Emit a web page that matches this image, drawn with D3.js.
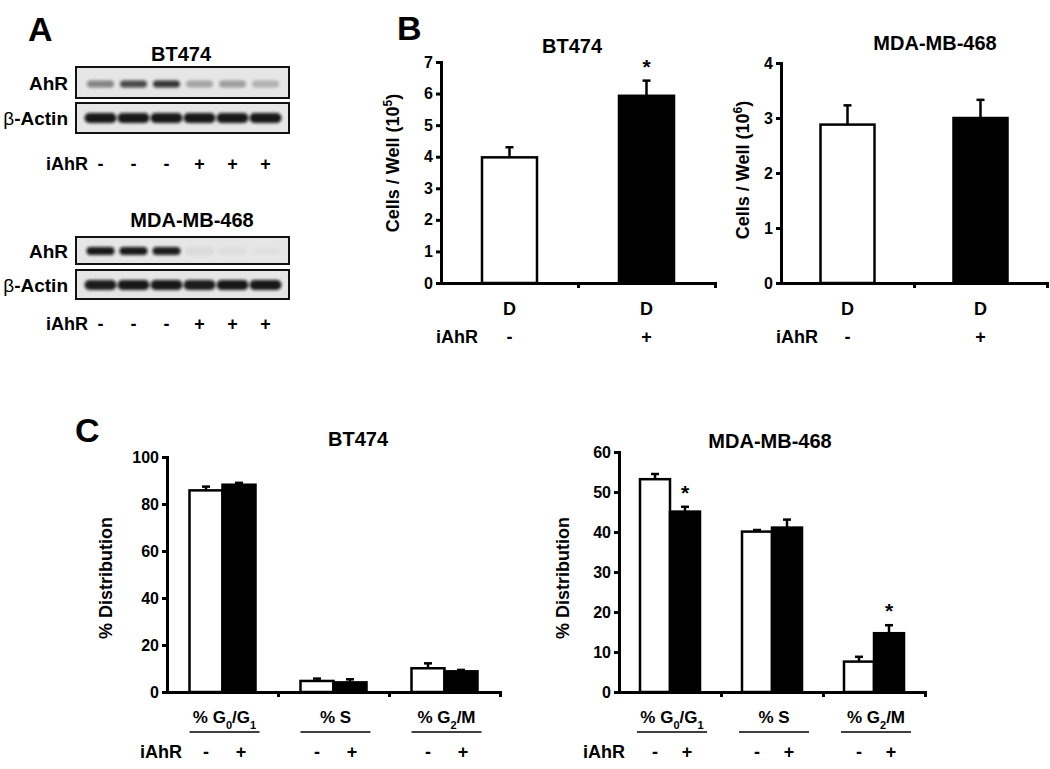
<!DOCTYPE html>
<html>
<head>
<meta charset="utf-8">
<script src="https://cdn.jsdelivr.net/npm/d3@7"></script>
<style>
body{margin:0;background:#fff}
text{font-family:"Liberation Sans",Arial,sans-serif;font-weight:bold;fill:#000}
</style>
</head>
<body>
<svg id="fig" width="1050" height="769"></svg>
<script>
// ---- data ----
// panel A, western blots (band darkness per lane, 0..1)
var lanes=["1","2","3","4","5","6"];
var laneSigns=["-","-","-","+","+","+"];
var bt474AhR=[0.45,0.72,0.82,0.3,0.33,0.24];
var bt474Actin=[0.95,0.95,0.95,0.95,0.95,0.95];
var mdaAhR=[0.95,0.95,0.92,0.05,0.03,0.02];
var mdaActin=[0.92,0.95,0.95,0.93,0.95,0.95];

// panel B, cell counts
var growthGroups=["D","D"];
var growthSigns=["-","+"];
var bt474Cells=[3.98,5.93];
var bt474CellsErr=[0.32,0.48];
var bt474CellsStar=[false,true];
var bt474CellTicks=[0,1,2,3,4,5,6,7];
var mdaCells=[2.88,3.0];
var mdaCellsErr=[0.35,0.33];
var mdaCellsStar=[false,false];
var mdaCellTicks=[0,1,2,3,4];

// panel C, cell cycle distribution
var phases=["% G0/G1","% S","% G2/M"];
var phaseSigns=["-","+"];
var bt474Minus=[85.8,4.7,10.1];
var bt474MinusErr=[1.6,1.0,2.1];
var bt474Plus=[88.2,4.1,8.8];
var bt474PlusErr=[0.8,1.3,0.6];
var bt474PlusStar=[false,false,false];
var bt474PhaseTicks=[0,20,40,60,80,100];
var mdaMinus=[53.2,40.1,7.6];
var mdaMinusErr=[1.3,0.4,1.2];
var mdaPlus=[45.1,41.1,14.7];
var mdaPlusErr=[1.2,2.0,2.0];
var mdaPlusStar=[true,false,true];
var mdaPhaseTicks=[0,10,20,30,40,50,60];

var svg=d3.select("#fig");
svg.append("rect").attr("width",1050).attr("height",769).attr("fill","#fff");

var defs=svg.append("defs");
defs.append("filter").attr("id","blur").attr("x","-20%").attr("y","-50%").attr("width","140%").attr("height","200%")
  .append("feGaussianBlur").attr("stdDeviation",1.5);

function txt(g,x,y,s,size,anchor){
  return g.append("text").attr("x",x).attr("y",y).attr("text-anchor",anchor||"middle")
    .style("font-size",size+"px").text(s);
}

// panel letters
txt(svg,28,41,"A",34,"start");
txt(svg,397,40,"B",34,"start");
txt(svg,75,442,"C",34,"start");

// ---- panel A ----
var lane=d3.scaleBand().domain(lanes).range([84,282]);
var blotId=0;

function blot(y,h,vals,bandY,bandH,bandW){
  blotId++;
  defs.append("clipPath").attr("id","clip"+blotId)
    .append("rect").attr("x",77).attr("y",y+1).attr("width",211).attr("height",h-2);
  svg.append("rect").attr("x",76).attr("y",y).attr("width",213).attr("height",h)
    .attr("fill","#e6e6e6").attr("stroke","#111").attr("stroke-width",2);
  svg.append("g").attr("clip-path","url(#clip"+blotId+")")
    .selectAll("rect").data(vals).enter().append("rect")
    .attr("x",function(d,i){return lane(lanes[i])+(lane.bandwidth()-bandW)/2;})
    .attr("y",bandY-bandH/2)
    .attr("width",bandW)
    .attr("height",bandH)
    .attr("rx",bandH/2)
    .attr("fill","#0a0a0a")
    .attr("opacity",function(d){return d;})
    .attr("filter","url(#blur)");
}

function signRow(y,label,labelX,xs,signs){
  txt(svg,labelX,y,label,18,"end");
  signs.forEach(function(s,i){ txt(svg,xs[i],y,s,18); });
}

txt(svg,181,61,"BT474",20);
txt(svg,68,90,"AhR",19,"end");
var b1=txt(svg,68,125,"",19,"end");
b1.append("tspan").style("font-weight","normal").text("β");
b1.append("tspan").text("-Actin");
blot(67,31,bt474AhR,84,7,27);
blot(103,30,bt474Actin,118,10,32);
signRow(169.5,"iAhR",88,lanes.map(function(l){return lane(l)+lane.bandwidth()/2;}),laneSigns);

txt(svg,192,227,"MDA-MB-468",20);
txt(svg,68,258,"AhR",19,"end");
var b2=txt(svg,68,292,"",19,"end");
b2.append("tspan").style("font-weight","normal").text("β");
b2.append("tspan").text("-Actin");
blot(237,27,mdaAhR,251,8,28);
blot(270,29,mdaActin,285,10,32);
signRow(329.5,"iAhR",88,lanes.map(function(l){return lane(l)+lane.bandwidth()/2;}),laneSigns);

// ---- shared axis helpers ----
function styleAxis(s){
  s.select(".domain").attr("stroke","#000").attr("stroke-width",3).attr("stroke-linecap","square");
  s.selectAll(".tick line").attr("stroke","#000").attr("stroke-width",3);
}

function axes(cfg,y,xb){
  var g=svg.append("g");
  g.append("g").attr("transform","translate("+cfg.x0+",0)")
    .call(d3.axisLeft(y).tickValues(cfg.ticks).tickFormat(d3.format("d")).tickSize(5).tickSizeOuter(0).tickPadding(3))
    .call(styleAxis)
    .selectAll("text").style("font-size","16px");
  var xl=d3.scaleLinear().domain([0,cfg.n]).range([cfg.x0,cfg.x1]);
  g.append("g").attr("transform","translate(0,"+cfg.y0+")")
    .call(d3.axisBottom(xl).tickValues(d3.range(1,cfg.n+1)).tickFormat("").tickSize(5).tickSizeOuter(0))
    .call(styleAxis);
  return g;
}

function errBar(g,cx,v,e,y,star){
  var top=y(v+e);
  g.append("line").attr("x1",cx).attr("x2",cx).attr("y1",y(v)).attr("y2",top)
    .attr("stroke","#000").attr("stroke-width",2.5);
  g.append("line").attr("x1",cx-4).attr("x2",cx+4).attr("y1",top).attr("y2",top)
    .attr("stroke","#000").attr("stroke-width",2.5);
  if(star) txt(g,cx,top-7,"*",21);
}

function ylabel(x,y,parts){
  var t=svg.append("text").attr("transform","translate("+x+","+y+") rotate(-90)")
    .attr("text-anchor","middle").attr("dy","0.35em").style("font-size","18px");
  parts.forEach(function(p){
    var ts=t.append("tspan").text(p[0]);
    if(p[1]) ts.attr("baseline-shift","super").style("font-size","12px");
  });
}

// ---- panel B ----
function growthChart(cfg){
  var y=d3.scaleLinear().domain([0,cfg.max]).range([cfg.y0,cfg.yTop]);
  var xb=d3.scaleBand().domain(d3.range(cfg.n)).range([cfg.x0,cfg.x1]);
  var g=svg.append("g");
  var fills=["#fff","#000"];
  g.selectAll("rect").data(cfg.values).enter().append("rect")
    .attr("x",function(d,i){return xb(i)+xb.bandwidth()/2-cfg.bw/2;})
    .attr("y",function(d){return y(d);})
    .attr("width",cfg.bw)
    .attr("height",function(d){return cfg.y0-y(d);})
    .attr("fill",function(d,i){return fills[i];})
    .attr("stroke","#000").attr("stroke-width",2.5);
  cfg.values.forEach(function(v,i){
    errBar(g,xb(i)+xb.bandwidth()/2,v,cfg.errs[i],y,cfg.stars[i]);
  });
  axes(cfg,y,xb);
  growthGroups.forEach(function(s,i){ txt(svg,xb(i)+xb.bandwidth()/2,314.5,s,18); });
  signRow(343,"iAhR",cfg.iahrX,growthGroups.map(function(s,i){return xb(i)+xb.bandwidth()/2;}),growthSigns);
  txt(svg,cfg.titleX,cfg.titleY,cfg.title,20);
  ylabel(cfg.labelX,cfg.labelY,[["Cells / Well (10"],[cfg.exp,true],[")"]]);
}

growthChart({x0:441,x1:715,y0:283,yTop:62,max:7,n:2,bw:55,ticks:bt474CellTicks,
  values:bt474Cells,errs:bt474CellsErr,stars:bt474CellsStar,iahrX:478,
  title:"BT474",titleX:572,titleY:53,labelX:393,labelY:163,exp:"5"});
growthChart({x0:781,x1:1047,y0:283,yTop:63,max:4,n:2,bw:54,ticks:mdaCellTicks,
  values:mdaCells,errs:mdaCellsErr,stars:mdaCellsStar,iahrX:818,
  title:"MDA-MB-468",titleX:935,titleY:50,labelX:743,labelY:170,exp:"6"});

// ---- panel C ----
function phaseLabel(g,x,y,s){
  var t=txt(g,x,y,"",17);
  s.split(/(?<=G)(\d)/).forEach(function(p){
    if(!p) return;
    var ts=t.append("tspan").text(p);
    if(/^\d$/.test(p)) ts.attr("baseline-shift","sub").style("font-size","11px");
  });
}

function phaseChart(cfg){
  var y=d3.scaleLinear().domain([0,cfg.max]).range([cfg.y0,cfg.yTop]);
  var xb=d3.scaleBand().domain(d3.range(cfg.n)).range([cfg.x0,cfg.x1]);
  var g=svg.append("g");
  function cx(i){return xb(i)+xb.bandwidth()/2;}
  g.selectAll(".minus").data(cfg.minus).enter().append("rect")
    .attr("x",function(d,i){return cx(i)-cfg.bw;})
    .attr("y",function(d){return y(d);})
    .attr("width",cfg.bw).attr("height",function(d){return cfg.y0-y(d);})
    .attr("fill","#fff").attr("stroke","#000").attr("stroke-width",2.5);
  g.selectAll(".plus").data(cfg.plus).enter().append("rect")
    .attr("x",function(d,i){return cx(i);})
    .attr("y",function(d){return y(d);})
    .attr("width",cfg.bw).attr("height",function(d){return cfg.y0-y(d);})
    .attr("fill","#000").attr("stroke","#000").attr("stroke-width",2.5);
  cfg.minus.forEach(function(v,i){ errBar(g,cx(i)-cfg.bw/2,v,cfg.minusErr[i],y,false); });
  cfg.plus.forEach(function(v,i){ errBar(g,cx(i)+cfg.bw/2,v,cfg.plusErr[i],y,cfg.stars[i]); });
  axes(cfg,y,xb);
  phases.forEach(function(p,i){
    phaseLabel(svg,cx(i)+2,723,p);
    svg.append("line").attr("x1",cx(i)-33).attr("x2",cx(i)+37).attr("y1",732).attr("y2",732)
      .attr("stroke","#000").attr("stroke-width",1.5);
  });
  txt(svg,cfg.iahrX,758,"iAhR",18,"end");
  phases.forEach(function(p,i){
    txt(svg,cx(i)-cfg.bw/2,758,phaseSigns[0],18);
    txt(svg,cx(i)+cfg.bw/2+2,758,phaseSigns[1],18);
  });
  txt(svg,cfg.titleX,cfg.titleY,cfg.title,20);
  ylabel(cfg.labelX,578,[["% Distribution"]]);
}

phaseChart({x0:167,x1:500,y0:692,yTop:457,max:100,n:3,bw:33,ticks:bt474PhaseTicks,
  minus:bt474Minus,minusErr:bt474MinusErr,plus:bt474Plus,plusErr:bt474PlusErr,stars:bt474PlusStar,
  iahrX:182,title:"BT474",titleX:358,titleY:446,labelX:106});
phaseChart({x0:619,x1:925,y0:692,yTop:452,max:60,n:3,bw:30,ticks:mdaPhaseTicks,
  minus:mdaMinus,minusErr:mdaMinusErr,plus:mdaPlus,plusErr:mdaPlusErr,stars:mdaPlusStar,
  iahrX:625,title:"MDA-MB-468",titleX:770,titleY:448,labelX:563});
</script>
</body>
</html>
